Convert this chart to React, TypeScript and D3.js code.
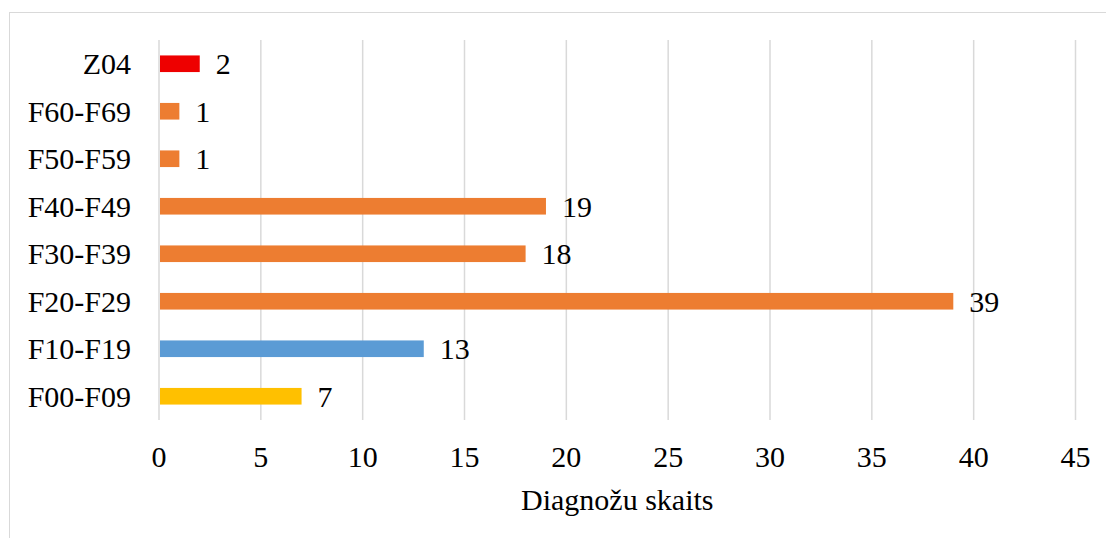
import React from "react";
import * as d3 from "d3";

const categories = ["Z04", "F60-F69", "F50-F59", "F40-F49", "F30-F39", "F20-F29", "F10-F19", "F00-F09"];
const values = [2, 1, 1, 19, 18, 39, 13, 7];
const barColors = ["#EE0000", "#ED7D31", "#ED7D31", "#ED7D31", "#ED7D31", "#ED7D31", "#5B9BD5", "#FFC000"];
const xTicks = [0, 5, 10, 15, 20, 25, 30, 35, 40, 45];
const axisTitle = "Diagnožu skaits";

const W = 1106;
const H = 538;
const left = 159;
const right = 1075.5;
const top = 40;
const bottom = 420;
const textStyle = { fontFamily: '"Liberation Serif", Tinos, "Times New Roman", "DejaVu Serif", serif', fontSize: "30px" };

export default function App() {
  const x = d3.scaleLinear().domain([0, 45]).range([left, right]);
  const y = d3.scaleBand<string>().domain(categories).range([top, bottom]).paddingInner(0.65).paddingOuter(0.325);
  return (
    <svg width={W} height={H} style={{ position: "absolute", left: 0, top: 0, background: "#fff" }}>
      <rect x={9.5} y={12.5} width={W + 10} height={H + 10} fill="#fff" stroke="#d9d9d9" strokeWidth={1} />
      {xTicks.map((t) => (
        <line key={"g" + t} x1={x(t)} x2={x(t)} y1={top} y2={bottom} stroke="#d9d9d9" strokeWidth={1.5} />
      ))}
      {categories.map((c, i) => (
        <rect key={"b" + c} x={x(0) + 1} y={y(c)!} width={x(values[i]) - x(0) - 1} height={y.bandwidth()} fill={barColors[i]} />
      ))}
      {categories.map((c, i) => (
        <text key={"v" + c} x={x(values[i]) + 16} y={y(c)! + y.bandwidth() / 2 + 10.5} style={textStyle} fill="#000">
          {values[i]}
        </text>
      ))}
      {categories.map((c) => (
        <text key={"l" + c} x={131} y={y(c)! + y.bandwidth() / 2 + 10.5} textAnchor="end" style={textStyle} fill="#000">
          {c}
        </text>
      ))}
      {xTicks.map((t) => (
        <text key={"t" + t} x={x(t)} y={466.5} textAnchor="middle" style={textStyle} fill="#000">
          {t}
        </text>
      ))}
      <text x={(left + right) / 2} y={509.5} textAnchor="middle" style={textStyle} fill="#000">
        {axisTitle}
      </text>
    </svg>
  );
}
